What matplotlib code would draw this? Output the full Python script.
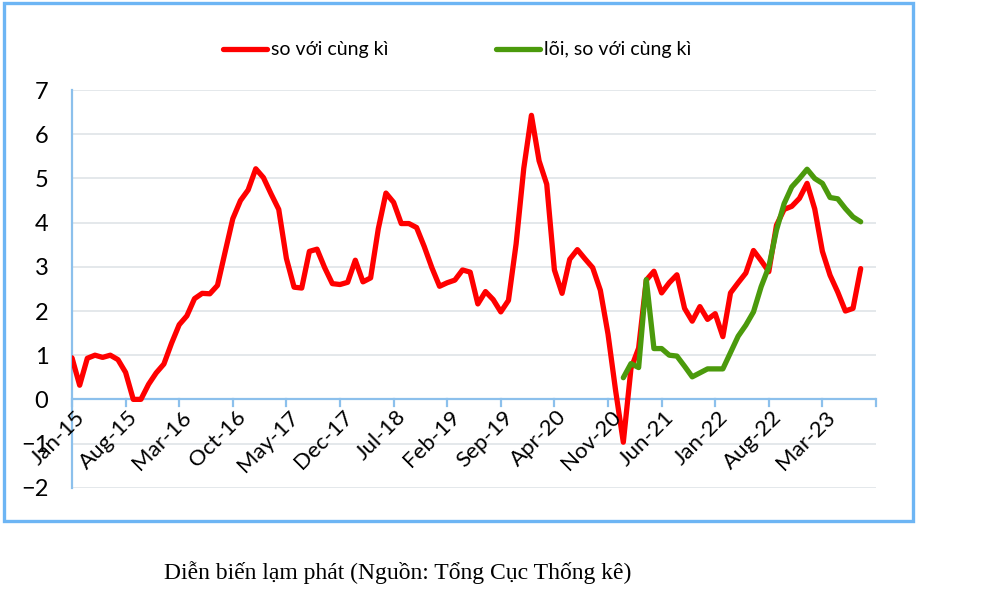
import matplotlib
matplotlib.use("Agg")
from matplotlib import pyplot as plt
from matplotlib.patches import Rectangle
import numpy as np

# monthly y/y CPI, Jan-15 .. Aug-23
cpi = [0.94, 0.32, 0.93, 1.00, 0.95, 1.00, 0.90, 0.61, 0.00, 0.00, 0.34, 0.60,
       0.80, 1.27, 1.69, 1.89, 2.28, 2.40, 2.39, 2.58, 3.34, 4.09, 4.50, 4.74,
       5.22, 5.02, 4.65, 4.30, 3.19, 2.54, 2.52, 3.35, 3.40, 2.98, 2.62, 2.60,
       2.65, 3.15, 2.66, 2.75, 3.86, 4.67, 4.46, 3.98, 3.98, 3.89, 3.46, 2.98,
       2.56, 2.64, 2.70, 2.93, 2.88, 2.16, 2.44, 2.26, 1.98, 2.24, 3.52, 5.23,
       6.43, 5.40, 4.87, 2.93, 2.40, 3.17, 3.39, 3.18, 2.98, 2.47, 1.48, 0.19,
       -0.97, 0.70, 1.16, 2.70, 2.90, 2.41, 2.64, 2.82, 2.06, 1.77, 2.10, 1.81,
       1.94, 1.42, 2.41, 2.64, 2.86, 3.37, 3.14, 2.89, 3.94, 4.30, 4.37, 4.55,
       4.89, 4.31, 3.35, 2.81, 2.43, 2.00, 2.06, 2.96]

# core y/y, Jan-21 .. Aug-23
core_start = 72
core = [0.49, 0.81, 0.72, 2.71, 1.15, 1.15, 1.00, 0.98, 0.75, 0.51, 0.60, 0.69,
        0.69, 0.69, 1.06, 1.43, 1.68, 1.98, 2.55, 3.00, 3.83, 4.43, 4.81, 5.00,
        5.21, 5.00, 4.89, 4.57, 4.54, 4.32, 4.13, 4.02]

months = ["Jan", "Feb", "Mar", "Apr", "May", "Jun", "Jul", "Aug", "Sep", "Oct", "Nov", "Dec"]
labels = ["%s-%02d" % (months[i % 12], 15 + i // 12) for i in range(106)]
ticks = list(range(0, 99, 7))

x_cpi = np.arange(len(cpi))
x_core = np.arange(core_start, core_start + len(core))

red = "#ff0000"
green = "#4b9a0c"
axis_blue = "#8cc0ec"
grid_col = "#dfe4e8"

plt.rcParams["font.family"] = ["Lato", "DejaVu Sans"]

fig = plt.figure(figsize=(10, 6.01), dpi=100)
ax = fig.add_axes([0.072, 0.1885, 0.804, 0.6615])

ax.plot(x_cpi, cpi, color=red, lw=3.8, solid_joinstyle="round", solid_capstyle="round",
        label="so với cùng kì", zorder=3)
ax.plot(x_core, core, color=green, lw=3.8, solid_joinstyle="round", solid_capstyle="round",
        label="lõi, so với cùng kì", zorder=4)

ax.set_xlim(0, 105)
ax.set_ylim(-2, 7)
for v in range(-2, 8):
    if v != 0:
        ax.axhline(v, color=grid_col, lw=1.2, zorder=1)
ax.axhline(0, color=axis_blue, lw=1.6, zorder=2)

# category labels hang from the zero line, not from the bottom of the axes
ax.set_xticks([])
for t in ticks + [105]:
    ax.plot([t, t], [0, -0.14], color=axis_blue, lw=1.6, zorder=2, clip_on=False)
for t in ticks:
    ax.text(t + 0.3, -0.17, labels[t], rotation=45, ha="right", va="top",
            rotation_mode="anchor", fontsize=16)

ax.set_yticks(range(-2, 8))
ax.tick_params(axis="y", length=0, labelsize=17, pad=17)

for s in ["top", "right", "bottom"]:
    ax.spines[s].set_visible(False)
ax.spines["left"].set_color(axis_blue)
ax.spines["left"].set_linewidth(1.6)

fig.legend(loc="center", bbox_to_anchor=(0.457, 0.917), ncol=2, frameon=False,
           fontsize=14, handlelength=2.3, columnspacing=5.5, handletextpad=0.2)

fig.text(0.398, 0.047, "Diễn biến lạm phát (Nguồn: Tổng Cục Thống kê)",
         family="Liberation Serif", fontsize=17, ha="center", va="center")

fig.patches.append(Rectangle((0.004, 1 - 521 / 601), 0.909, (521 - 3) / 601,
                             transform=fig.transFigure, fill=False,
                             edgecolor="#6db5f4", lw=2.4))

fig.savefig("out.png", dpi=100)
